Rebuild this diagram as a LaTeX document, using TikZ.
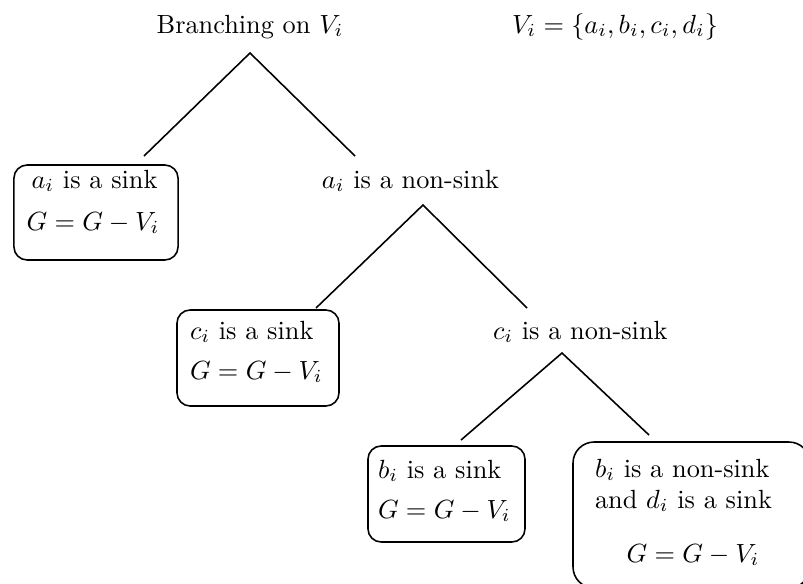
\documentclass[tikz,border=0pt]{standalone}
\begin{document}
\begin{tikzpicture}[x=0.3802pt,y=-0.3802pt,
  txt/.style={inner sep=0pt,outer sep=0pt,anchor=base},
  ltxt/.style={inner sep=0pt,outer sep=0pt,anchor=base west},
  box/.style={draw,semithick,rounded corners=5pt,inner sep=0pt},
  edge/.style={semithick}]
\clip (0,0) rectangle (803,583);
% titles
\node[txt] (title) at (250,33) {Branching on $V_i$};
\node[txt] (vset) at (615,33) {$V_i=\{a_i,b_i,c_i,d_i\}$};
% level 1
\coordinate (r0) at (250,53);
\coordinate (l1) at (144,156);
\coordinate (r1) at (355,156);
\draw[edge] (l1) -- (r0) -- (r1);
\node[box,minimum width=62.4pt,minimum height=36.1pt] (boxA) at (96,212.5) {};
\node[txt] (aS) at (94.5,188) {$a_i$ is a sink};
\node[txt] (aG) at (93,230) {$G=G-V_i$};
\node[txt] (aN) at (410.5,188) {$a_i$ is a non-sink};
% level 2
\coordinate (r2) at (423,205);
\coordinate (l2e) at (316,308);
\coordinate (r2e) at (527,308);
\draw[edge] (l2e) -- (r2) -- (r2e);
\node[box,minimum width=61.6pt,minimum height=36.5pt] (boxC) at (258,358) {};
\node[ltxt] (cS) at (190,339) {$c_i$ is a sink};
\node[ltxt] (cG) at (190,379) {$G=G-V_i$};
\node[ltxt] (cN) at (493,339) {$c_i$ is a non-sink};
% level 3
\coordinate (r3) at (562,353);
\coordinate (l3e) at (461,440);
\coordinate (r3e) at (649,435);
\draw[edge] (l3e) -- (r3) -- (r3e);
\node[box,minimum width=59.7pt,minimum height=36.5pt] (boxB) at (446.5,494) {};
\node[ltxt] (bS) at (378,478) {$b_i$ is a sink};
\node[ltxt] (bG) at (378,518) {$G=G-V_i$};
\node[box,rounded corners=8pt,minimum width=90.1pt,minimum height=55.5pt] (boxD) at (691.5,515) {};
\node[ltxt] (dN) at (595,477) {$b_i$ is a non-sink};
\node[ltxt] (dS) at (595,508) {and $d_i$ is a sink};
\node[txt] (dG) at (693,562) {$G=G-V_i$};
\end{tikzpicture}
\end{document}
